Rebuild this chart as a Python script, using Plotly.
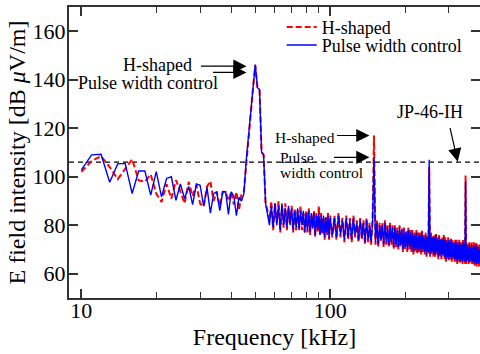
import math
import plotly.graph_objects as go

# ---------------- data ----------------
# frequency samples [kHz]
freq_1k = list(range(10, 101))          # 10 .. 100 kHz, 1 kHz steps
freq_2k = list(range(102, 401, 2))      # 102 .. 400 kHz, 2 kHz steps
freq_khz = freq_1k + freq_2k

# H-shaped (red dashed)  [dB uV/m]
h_low = [102.0, 106.5, 108.5, 104.0, 99.0, 103.0, 107.2, 98.5, 98.0, 101.0,   # 10-19
         93.0, 89.6, 97.0, 91.0, 98.6, 94.0, 89.0, 97.9, 92.0, 96.6,          # 20-29
         89.0, 87.6, 96.0, 98.2, 90.0, 93.8, 88.0, 93.8, 93.8, 90.0,          # 30-39
         93.8, 88.5, 93.8, 86.2, 93.0, 94.0, 106.0, 116.5, 127.0, 137.0,      # 40-49
         146.0, 137.0, 136.0, 110.5, 109.0, 89.0, 86.0]                       # 50-56
h_mid = [82, 90, 78, 89, 81, 90, 77, 88, 79, 89, 78, 87, 81, 88, 77, 87, 78, 86, 79, 88,
         78, 85, 77, 86, 77, 87, 76, 84, 78, 86, 75, 85, 77, 88, 76, 85, 76, 83, 74, 84,
         76, 85, 74, 84]                                                       # 57-100
h_high = [75, 84, 74, 85, 75, 83, 73, 84, 74, 83,
          73, 84, 75, 82, 73, 83, 74, 82, 72, 83,
          73, 81, 72, 82,
          117,
          72, 82, 71, 81, 73,
          81, 71, 82, 72, 80, 71, 81, 72, 80, 70,
          80, 71, 79, 70, 80, 71, 79, 69, 79, 70,
          78, 69, 79, 70, 78, 69, 78, 68, 77, 69,
          78, 68, 77, 69, 77, 68, 78, 69, 76, 68,
          77, 67, 76, 68,
          104,
          67, 77, 68, 76, 67,
          76, 67, 77, 68, 75, 66, 76, 67, 75, 66,
          75, 67, 76, 66, 75, 65, 74, 66, 75, 65,
          74, 66, 75, 65, 74, 66, 73, 65, 74, 65,
          74, 64, 73, 65, 74, 64, 73, 65, 73, 64,
          74, 65, 73, 64,
          100.5,
          64, 73, 65, 72, 64,
          73, 64, 72, 65, 73, 64, 72, 64, 73, 63,
          72, 64, 73, 63, 72, 64, 71, 63, 72, 64]                             # 102-400

# Pulse width control (blue solid)  [dB uV/m]
p_low = [102.8, 109.0, 109.3, 97.7, 105.3, 105.5, 93.1, 102.4, 102.4, 92.4,   # 10-19
         102.1, 91.7, 99.3, 100.0, 90.3, 97.0, 91.0, 96.0, 88.5, 97.0,        # 20-29
         96.5, 88.0, 95.5, 85.0, 93.0, 93.8, 86.0, 93.8, 93.8, 84.5,          # 30-39
         93.8, 92.0, 84.0, 91.5, 90.0, 93.0, 107.0, 116.0, 127.0, 137.0,      # 40-49
         146.3, 136.7, 136.0, 110.0, 109.0, 89.0, 85.0]                       # 50-56
p_mid = [80, 88, 79, 89, 80, 88, 78, 89, 80, 87, 79, 88, 80, 87, 78, 86, 79, 87, 78, 86,
         80, 86, 77, 85, 78, 86, 77, 85, 79, 85, 76, 84, 78, 85, 76, 84, 77, 84, 75, 83,
         77, 84, 75, 83]                                                       # 57-100
p_high = [76, 83, 75, 84, 76, 82, 74, 83, 75, 82,
          74, 83, 76, 81, 74, 82, 75, 81, 73, 82,
          74, 80, 73, 81,
          108,
          73, 81, 72, 80, 74,
          80, 72, 81, 73, 79, 72, 80, 73, 79, 71,
          79, 72, 78, 71, 79, 72, 78, 70, 78, 71,
          77, 70, 78, 71, 77, 70, 77, 69, 76, 70,
          77, 69, 76, 70, 76, 69, 77, 70, 75, 69,
          76, 68, 75, 69,
          107,
          68, 76, 69, 75, 68,
          75, 68, 76, 69, 74, 67, 75, 68, 74, 67,
          74, 68, 75, 67, 74, 66, 73, 67, 74, 66,
          73, 67, 74, 66, 73, 67, 72, 66, 73, 66,
          73, 65, 72, 66, 73, 65, 72, 66, 72, 65,
          73, 66, 72, 65,
          98,
          65, 72, 66, 71, 65,
          72, 65, 71, 66, 72, 65, 71, 65, 72, 64,
          71, 65, 72, 64, 71, 65, 70, 64, 71, 65]                             # 102-400

h_shaped = h_low + h_mid + h_high
pulse_width = p_low + p_mid + p_high
assert len(h_shaped) == len(freq_khz) == len(pulse_width)

LIMIT_DB = 106          # JP-46-IH limit
x_ticks = [10, 100]
x_minor = [20, 30, 40, 50, 60, 70, 80, 90, 200, 300]
y_ticks = [60, 80, 100, 120, 140, 160]

FONT = "Liberation Serif"
lg = math.log10

fig = go.Figure()
fig.add_trace(go.Scatter(x=freq_khz, y=h_shaped, mode="lines", name="H-shaped",
                         line=dict(color="#ff0000", width=2, dash="6px,3px"),
                         legend="legend"))
fig.add_trace(go.Scatter(x=freq_khz, y=pulse_width, mode="lines", name="Pulse width control",
                         line=dict(color="#0000ff", width=1.4),
                         legend="legend2"))

fig.add_shape(type="line", xref="paper", x0=0, x1=1, yref="y", y0=LIMIT_DB, y1=LIMIT_DB,
              line=dict(color="black", width=1.3, dash="5px,4px"), layer="below")

ann_font = dict(family=FONT, size=18, color="black")
ann_small = dict(family=FONT, size=15.5, color="black")
arrow_kw = dict(showarrow=True, arrowhead=2, arrowsize=2.2, arrowwidth=1.2, arrowcolor="black",
                text="", axref="pixel", ayref="pixel")
annotations = [
    dict(x=lg(20.16), y=146.0, text="H-shaped", showarrow=False, font=ann_font),
    dict(x=lg(18.55), y=138.5, text="Pulse width control", showarrow=False, font=ann_font),
    dict(x=lg(46.1), y=145.6, ax=-47, ay=0, **arrow_kw),
    dict(x=lg(46.1), y=143.0, ax=-35, ay=0, **arrow_kw),
    dict(x=lg(78.9), y=116.0, text="H-shaped", showarrow=False, font=ann_small),
    dict(x=lg(61.9), y=108.0, text="Pulse", showarrow=False, font=ann_small, xanchor="left"),
    dict(x=lg(61.9), y=101.6, text="width control", showarrow=False, font=ann_small, xanchor="left"),
    dict(x=lg(143.8), y=117.0, ax=-34, ay=0, **arrow_kw),
    dict(x=lg(143.8), y=108.0, ax=-37, ay=0, **arrow_kw),
    dict(x=lg(252.5), y=126.5, text="JP-46-IH", showarrow=False, font=ann_font),
    dict(x=lg(325.5), y=106.2, ax=-8, ay=-35, **arrow_kw),
]

axis_common = dict(showline=True, linecolor="#333333", linewidth=2, mirror="ticks",
                   ticks="inside", tickcolor="#333333", tickwidth=1.5, ticklen=9,
                   showgrid=False, zeroline=False, automargin=False,
                   tickfont=dict(family=FONT, size=22, color="black"))

fig.update_layout(
    width=480, height=354,
    margin=dict(l=69, r=0, t=7, b=56, autoexpand=False),
    paper_bgcolor="white", plot_bgcolor="white",
    font=dict(family=FONT, color="black"),
    xaxis=dict(type="log", range=[lg(8.92), lg(400)], tickmode="array", tickvals=x_ticks,
               ticktext=[str(v) for v in x_ticks],
               minor=dict(tickmode="array", tickvals=x_minor, ticks="inside", ticklen=6,
                          tickcolor="#333333", tickwidth=1.2, showgrid=False),
               title=dict(text="Frequency [kHz]", font=dict(family=FONT, size=24, color="black"),
                          standoff=6),
               ticklabelstandoff=-8,
               **axis_common),
    yaxis=dict(range=[50, 170], tickmode="array", tickvals=y_ticks,
               title=dict(text="E field intensity [dB <i>μ</i>V/m]",
                          font=dict(family=FONT, size=24, color="black"), standoff=0),
               ticklabelstandoff=-3,
               **axis_common),
    legend=dict(x=0.5175, y=0.994, xanchor="left", yanchor="top", bgcolor="rgba(0,0,0,0)",
                font=dict(family=FONT, size=18, color="black")),
    legend2=dict(x=0.5175, y=0.932, xanchor="left", yanchor="top", bgcolor="rgba(0,0,0,0)",
                 font=dict(family=FONT, size=18, color="black")),
    annotations=annotations,
    showlegend=True,
)

fig.write_html("out.html", config={"displayModeBar": False},
               post_script="document.body.style.margin='0';document.body.style.overflow='hidden';")
